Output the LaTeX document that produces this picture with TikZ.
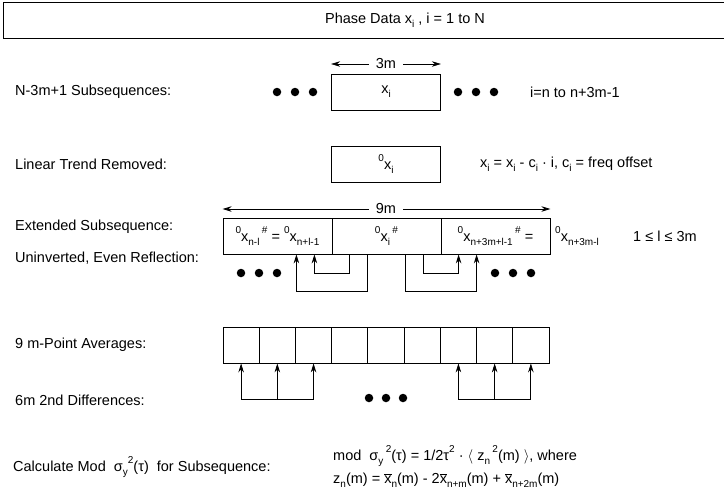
\documentclass[tikz,border=0pt]{standalone}
\usepackage{fontspec}
\setmainfont{Liberation Sans}
\usetikzlibrary{arrows.meta}
\newcommand{\lo}[1]{\raisebox{-0.5ex}{\fontsize{10}{10}\selectfont #1}}
\newcommand{\hi}[1]{\raisebox{0.95ex}{\fontsize{10}{10}\selectfont #1}}
\newcommand{\xb}{$\overline{\mbox{x}}$}
\begin{document}
\begin{tikzpicture}[x=1pt,y=-1pt,font=\fontsize{14.5}{17}\selectfont,
  box/.style={draw,line width=0.8pt,minimum width=109pt,minimum height=36pt,inner sep=0pt},
  cell/.style={draw,line width=0.8pt,minimum width=36.22pt,minimum height=36pt,inner sep=0pt},
  lbl/.style={anchor=west,inner sep=0pt},
  arr/.style={-{Stealth[length=9pt,width=5.5pt]},line width=0.8pt},
  wire/.style={line width=0.8pt},
  dot/.style={circle,fill=black,minimum size=8.5pt,inner sep=0pt},
  gap/.style={fill=white,inner sep=0pt}]
\useasboundingbox (0,0) rectangle (724,504);
\clip (0,0) rectangle (724,504);
% top
\node[draw,line width=0.8pt,anchor=north west,minimum width=740pt,minimum height=36pt,inner sep=0pt] (top) at (3,2) {};
\node[inner sep=0pt] (title) at (405,20) {Phase Data x\lo{i} , i = 1 to N};
% row 1
\node[lbl] (l1) at (15,92) {N-3m+1 Subsequences:};
\node[box] (sub) at (386,92) {x\lo{i}};
\node[dot] (da1) at (277,92) {};
\node[dot] (da2) at (295,92) {};
\node[dot] (da3) at (313,92) {};
\node[dot] (db1) at (458,92) {};
\node[dot] (db2) at (476,92) {};
\node[dot] (db3) at (494,92) {};
\node[lbl] (rng) at (530,92) {i=n to n+3m-1};
\node[gap] (m3) at (386,64) {3m};
\draw[arr] ([xshift=-7pt]m3.west) -- (sub.north west |- m3);
\draw[arr] ([xshift=7pt]m3.east) -- (sub.north east |- m3);
% row 2
\node[lbl] (l2) at (15,164) {Linear Trend Removed:};
\node[box] (lin) at (386,164) {\hi{0}x\lo{i}};
\node[lbl] (trend) at (480,164) {x\lo{i} = x\lo{i} - c\lo{i} · i, c\lo{i} = freq offset};
% row 3
\node[lbl] (l3) at (15,227) {Extended Subsequence:};
\node[box] (e1) at (277.5,236) {\hi{0}x\lo{n-l}\,\hi{\#} = \hi{0}x\lo{n+l-1}};
\node[box] (e2) at (386.5,236) {\hi{0}x\lo{i}\,\hi{\#}};
\node[box] (e3) at (495.5,236) {\hi{0}x\lo{n+3m+l-1}\,\hi{\#} =};
\node[gap] (m9) at (386,209) {9m};
\draw[arr] ([xshift=-7pt]m9.west) -- (e1.north west |- m9);
\draw[arr] ([xshift=7pt]m9.east) -- (e3.north east |- m9);
\node[lbl] (ext) at (555,236) {\hi{0}x\lo{n+3m-l}};
\node[lbl] (lrange) at (633,236) {1 ≤ l ≤ 3m};
\node[lbl] (l4) at (15,258) {Uninverted, Even Reflection:};
\node[dot] (dc1) at (241,273) {};
\node[dot] (dc2) at (259,273) {};
\node[dot] (dc3) at (277,273) {};
\node[dot] (dd1) at (495,273) {};
\node[dot] (dd2) at (513,273) {};
\node[dot] (dd3) at (531,273) {};
\draw[arr] ([xshift=18pt]e2.south west) -- ++(0,19) -| ([xshift=-18pt]e1.south east);
\draw[arr] ([xshift=36pt]e2.south west) -- ++(0,37) -| ([xshift=-36pt]e1.south east);
\draw[arr] ([xshift=-18pt]e2.south east) -- ++(0,19) -| ([xshift=18pt]e3.south west);
\draw[arr] ([xshift=-36pt]e2.south east) -- ++(0,37) -| ([xshift=36pt]e3.south west);
% row 4
\node[lbl] (l5) at (15,345) {9 m-Point Averages:};
\foreach \k in {1,...,9} \node[cell] (a\k) at ({223+36.22*(\k-0.5)},345) {};
\node[lbl] (l6) at (15,400) {6m 2nd Differences:};
\draw[wire] ([yshift=-36pt]a1.south) -- ([yshift=-36pt]a3.south);
\draw[wire] ([yshift=-36pt]a7.south) -- ([yshift=-36pt]a9.south);
\foreach \k in {1,2,3,7,8,9} \draw[arr] ([yshift=-36pt]a\k.south) -- (a\k.south);
\node[dot] (de1) at (369,398) {};
\node[dot] (de2) at (386,398) {};
\node[dot] (de3) at (403,398) {};
% bottom
\node[lbl] (l7) at (13,467) {Calculate Mod \ σ\lo{y}\hi{2}(τ) \ for Subsequence:};
\node[lbl] (f1) at (333,456) {mod \ σ\lo{y}\,\hi{2}(τ) = 1/2τ\hi{2} · $\langle$ z\lo{n}\,\hi{2}(m) $\rangle$, where};
\node[lbl] (f2) at (333,480) {z\lo{n}(m) = \xb\lo{n}(m) - 2\xb\lo{n+m}(m) + \xb\lo{n+2m}(m)};
\end{tikzpicture}
\end{document}
